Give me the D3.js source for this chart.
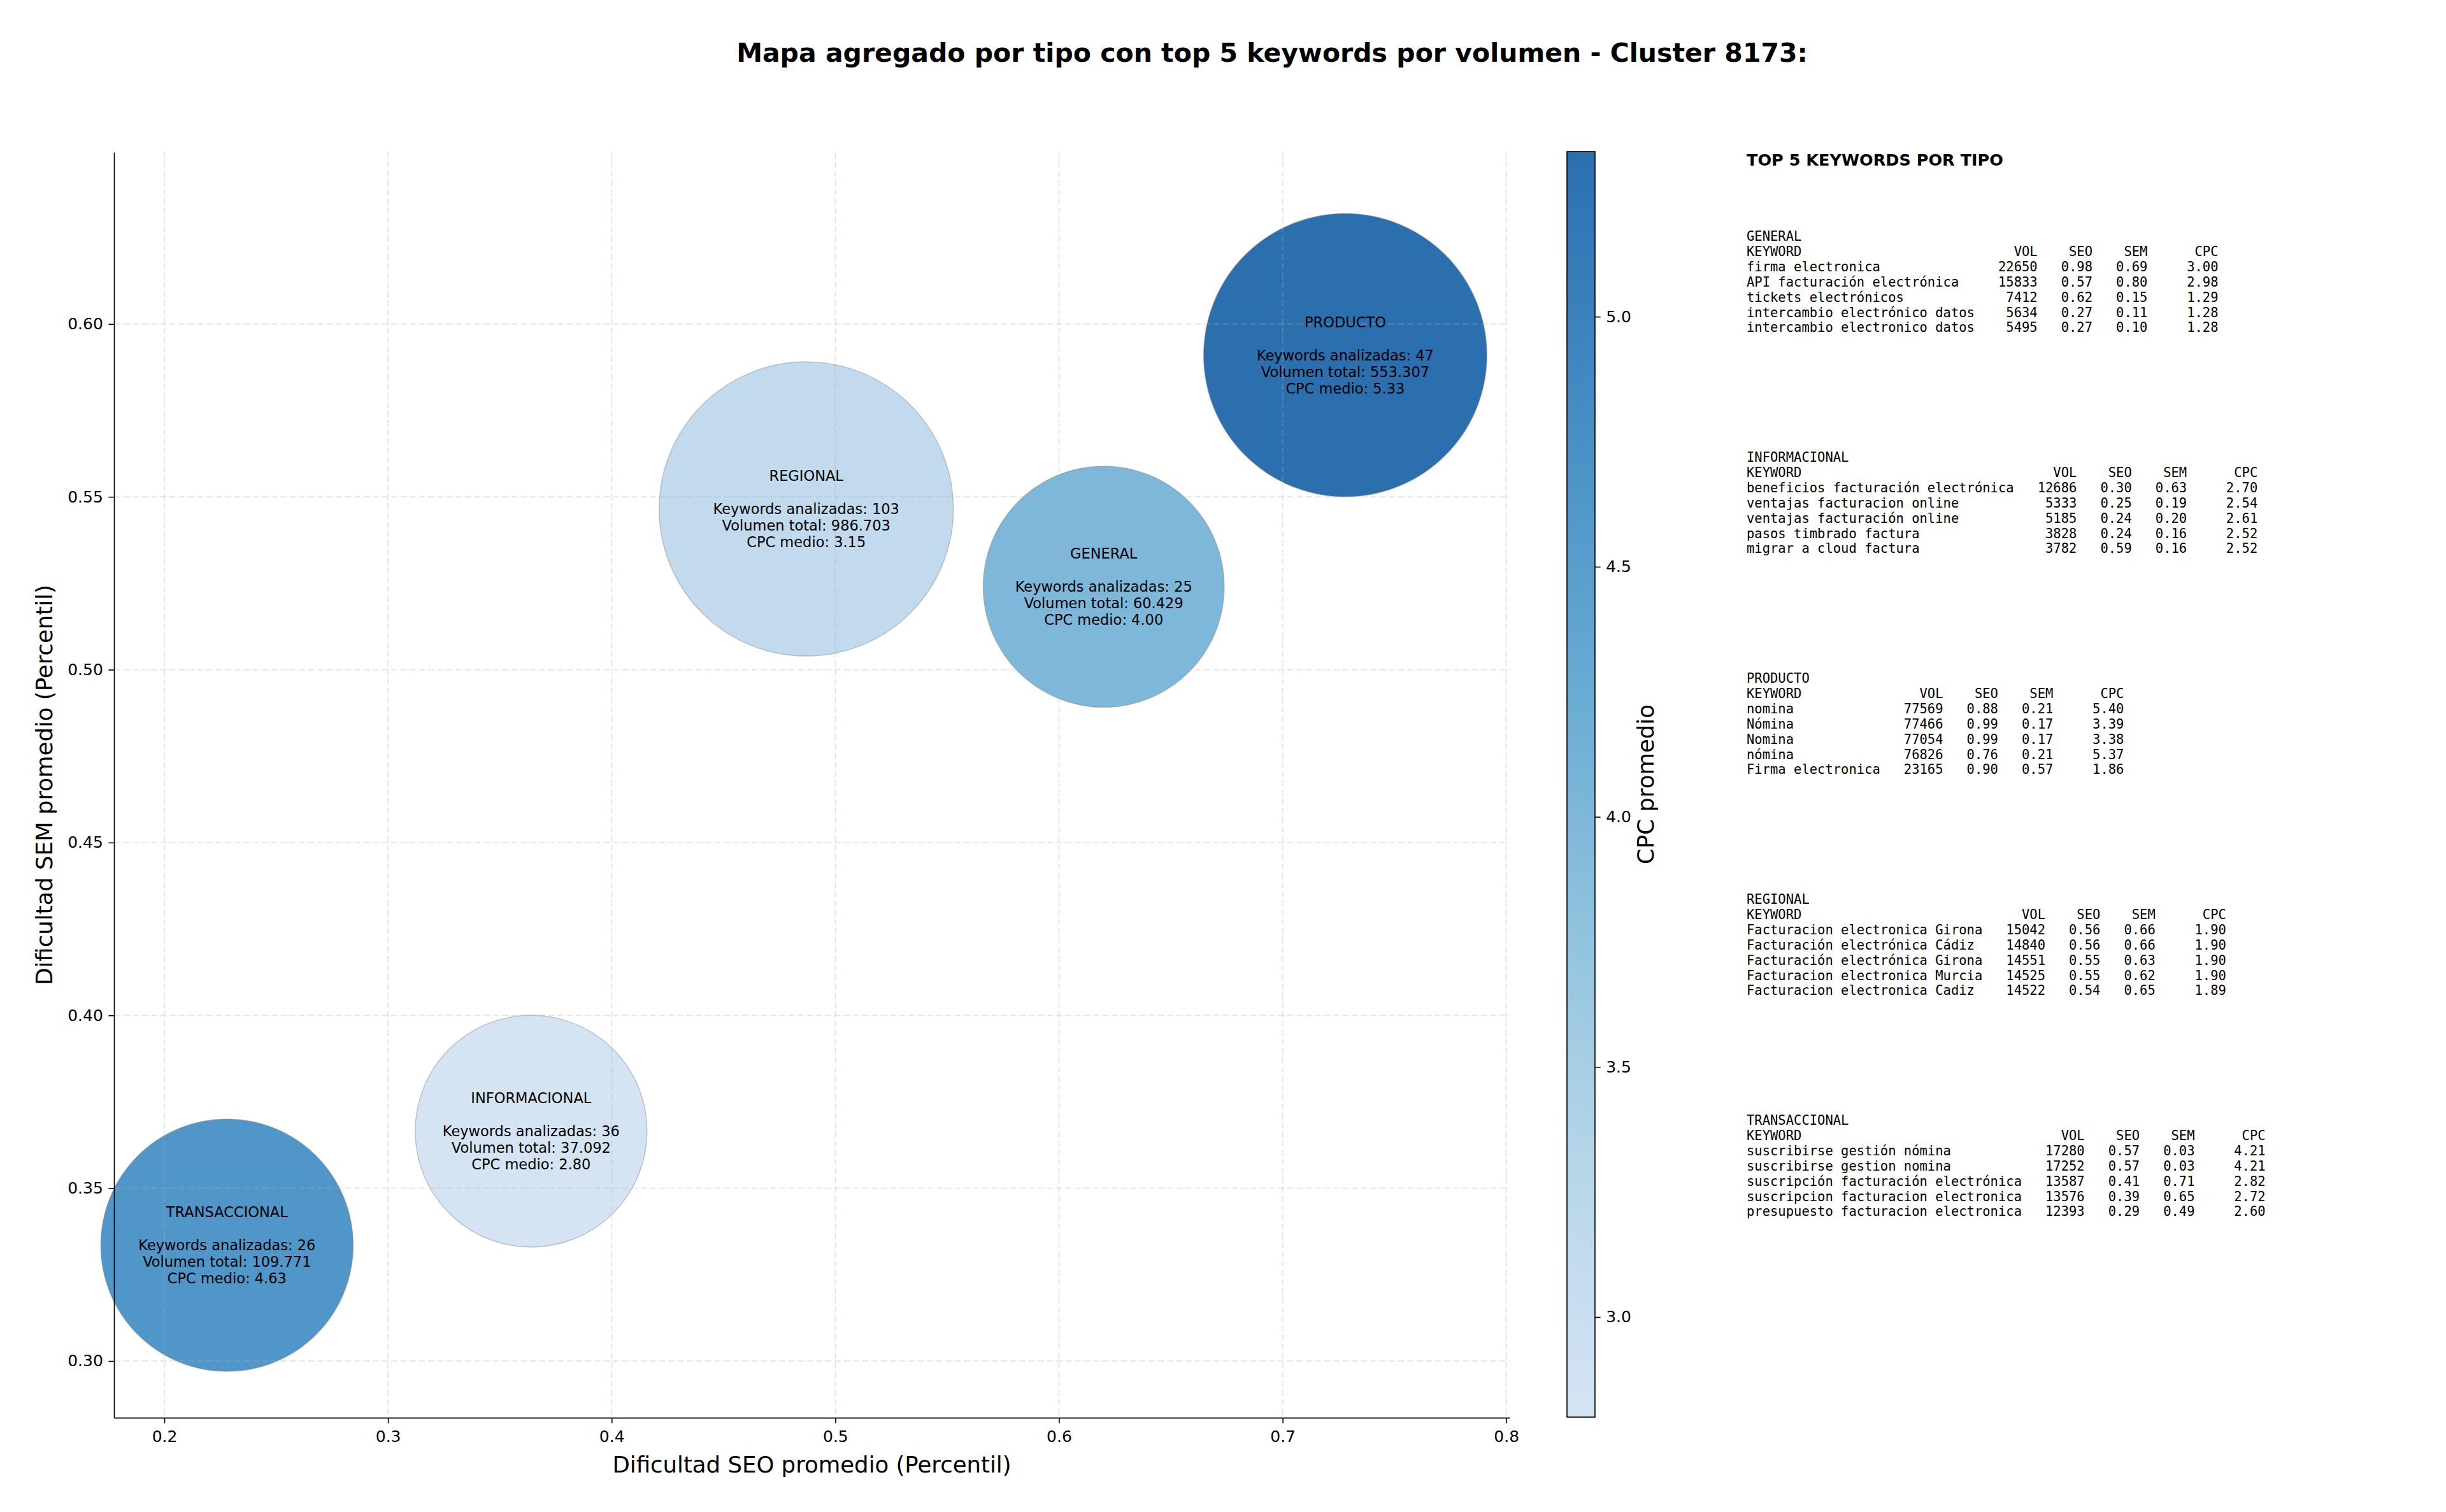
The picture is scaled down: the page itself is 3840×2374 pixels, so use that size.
<!DOCTYPE html>
<html>
<head>
<meta charset="utf-8">
<script src="https://cdn.jsdelivr.net/npm/d3@7"></script>
<style>
  html, body { margin: 0; padding: 0; background: #fff; }
  svg { display: block; }
  text { font-family: "DejaVu Sans", sans-serif; }
  .mono { font-family: "DejaVu Sans Mono", monospace; white-space: pre; }
</style>
</head>
<body>
<div id="chart"></div>
<script>
// ---- data ----
const tipos = ['GENERAL', 'INFORMACIONAL', 'PRODUCTO', 'REGIONAL', 'TRANSACCIONAL'];
const seoMedio = [0.620, 0.364, 0.728, 0.487, 0.228];
const semMedio = [0.524, 0.3665, 0.591, 0.5465, 0.3335];
const kwAnalizadas = [25, 36, 47, 103, 26];
const volTotal = [60429, 37092, 553307, 986703, 109771];
const cpcMedio = [4.00, 2.80, 5.33, 3.15, 4.63];

const xTicks = [0.2, 0.3, 0.4, 0.5, 0.6, 0.7, 0.8];
const yTicks = [0.30, 0.35, 0.40, 0.45, 0.50, 0.55, 0.60];
const cbTicks = [3.0, 3.5, 4.0, 4.5, 5.0];

// top 5 keywords per type: [keyword, vol, seo, sem, cpc]
const topGeneral = [
  ['firma electronica', 22650, 0.98, 0.69, 3.00],
  ['API facturación electrónica', 15833, 0.57, 0.80, 2.98],
  ['tickets electrónicos', 7412, 0.62, 0.15, 1.29],
  ['intercambio electrónico datos', 5634, 0.27, 0.11, 1.28],
  ['intercambio electronico datos', 5495, 0.27, 0.10, 1.28]
];
const topInformacional = [
  ['beneficios facturación electrónica', 12686, 0.30, 0.63, 2.70],
  ['ventajas facturacion online', 5333, 0.25, 0.19, 2.54],
  ['ventajas facturación online', 5185, 0.24, 0.20, 2.61],
  ['pasos timbrado factura', 3828, 0.24, 0.16, 2.52],
  ['migrar a cloud factura', 3782, 0.59, 0.16, 2.52]
];
const topProducto = [
  ['nomina', 77569, 0.88, 0.21, 5.40],
  ['Nómina', 77466, 0.99, 0.17, 3.39],
  ['Nomina', 77054, 0.99, 0.17, 3.38],
  ['nómina', 76826, 0.76, 0.21, 5.37],
  ['Firma electronica', 23165, 0.90, 0.57, 1.86]
];
const topRegional = [
  ['Facturacion electronica Girona', 15042, 0.56, 0.66, 1.90],
  ['Facturación electrónica Cádiz', 14840, 0.56, 0.66, 1.90],
  ['Facturación electrónica Girona', 14551, 0.55, 0.63, 1.90],
  ['Facturacion electronica Murcia', 14525, 0.55, 0.62, 1.90],
  ['Facturacion electronica Cadiz', 14522, 0.54, 0.65, 1.89]
];
const topTransaccional = [
  ['suscribirse gestión nómina', 17280, 0.57, 0.03, 4.21],
  ['suscribirse gestion nomina', 17252, 0.57, 0.03, 4.21],
  ['suscripción facturación electrónica', 13587, 0.41, 0.71, 2.82],
  ['suscripcion facturacion electronica', 13576, 0.39, 0.65, 2.72],
  ['presupuesto facturacion electronica', 12393, 0.29, 0.49, 2.60]
];
const topPorTipo = [topGeneral, topInformacional, topProducto, topRegional, topTransaccional];

// ---- layout ----
const W = 3840, H = 2374;
const plot = { left: 179, right: 2370, top: 239, bottom: 2226 };
const cb = { left: 2460, right: 2504, top: 238, bottom: 2225 };

const svg = d3.select('#chart').append('svg')
  .attr('width', W).attr('height', H);

const x = d3.scaleLinear().domain([0.1775, 0.8015]).range([plot.left, plot.right]);
const y = d3.scaleLinear().domain([0.2836, 0.6497]).range([plot.bottom, plot.top]);
// bubble radius grows with log of total volume
const r = d3.scaleLog().domain(d3.extent(volTotal)).range([182, 231]);

const cpcExtent = d3.extent(cpcMedio);
const color = v => d3.interpolateBlues(0.2 + 0.62 * (v - cpcExtent[0]) / (cpcExtent[1] - cpcExtent[0]));

const esLocale = d3.formatLocale({ decimal: ',', thousands: '.', grouping: [3], currency: ['', '€'] });
const fmtVol = esLocale.format(',d');
const fmt2 = d3.format('.2f');

// Title
svg.append('text')
  .attr('x', 1997).attr('y', 97)
  .attr('text-anchor', 'middle')
  .attr('font-size', '41px').attr('font-weight', 'bold')
  .text('Mapa agregado por tipo con top 5 keywords por volumen - Cluster 8173:');

// Bubbles
const bubbles = tipos.map((t, i) => ({
  tipo: t, seo: seoMedio[i], sem: semMedio[i], n: kwAnalizadas[i], vol: volTotal[i], cpc: cpcMedio[i]
}));

svg.append('g').selectAll('circle')
  .data(bubbles)
  .join('circle')
  .attr('cx', d => x(d.seo))
  .attr('cy', d => y(d.sem))
  .attr('r', d => r(d.vol))
  .attr('fill', d => color(d.cpc))
  .attr('fill-opacity', 0.9)
  .attr('stroke', '#888').attr('stroke-opacity', 0.45).attr('stroke-width', 1.5);

// Grid (drawn above the bubbles, faint)
const grid = svg.append('g')
  .attr('stroke', '#b0b0b0').attr('stroke-opacity', 0.32)
  .attr('stroke-width', 1.9).attr('stroke-dasharray', '10,4.5');
grid.selectAll('.gx').data(xTicks).join('line')
  .attr('x1', d => x(d)).attr('x2', d => x(d))
  .attr('y1', plot.top).attr('y2', plot.bottom);
grid.selectAll('.gy').data(yTicks).join('line')
  .attr('x1', plot.left).attr('x2', plot.right)
  .attr('y1', d => y(d)).attr('y2', d => y(d));

// Bubble labels
const lineH = 26;
bubbles.forEach(d => {
  const lines = [d.tipo, '', `Keywords analizadas: ${d.n}`, `Volumen total: ${fmtVol(d.vol)}`, `CPC medio: ${fmt2(d.cpc)}`];
  const cy = y(d.sem);
  svg.append('g').selectAll('text')
    .data(lines)
    .join('text')
    .attr('x', x(d.seo))
    .attr('y', (l, k) => cy + (k - 2) * lineH + 8)
    .attr('text-anchor', 'middle')
    .attr('font-size', '22.5px').attr('fill', '#000')
    .text(l => l);
});

// Axes
svg.append('g')
  .attr('transform', `translate(0,${plot.bottom})`)
  .call(d3.axisBottom(x).tickValues(xTicks).tickFormat(d3.format('.1f'))
    .tickSize(8.6).tickPadding(12).tickSizeOuter(0))
  .call(g => g.select('.domain').attr('stroke', '#222').attr('stroke-width', 2.2))
  .call(g => g.selectAll('.tick line').attr('stroke', '#000').attr('stroke-width', 1.6))
  .call(g => g.selectAll('text').attr('font-size', '25px').attr('fill', '#000')
    .attr('font-family', '"DejaVu Sans", sans-serif'));

svg.append('g')
  .attr('transform', `translate(${plot.left},0)`)
  .call(d3.axisLeft(y).tickValues(yTicks).tickFormat(d3.format('.2f'))
    .tickSize(8.6).tickPadding(8.6).tickSizeOuter(0))
  .call(g => g.select('.domain').attr('stroke', '#000').attr('stroke-width', 1.6))
  .call(g => g.selectAll('.tick line').attr('stroke', '#000').attr('stroke-width', 1.6))
  .call(g => g.selectAll('text').attr('font-size', '25px').attr('fill', '#000')
    .attr('font-family', '"DejaVu Sans", sans-serif'));

// Axis labels
svg.append('text')
  .attr('x', (plot.left + plot.right) / 2).attr('y', 2312)
  .attr('text-anchor', 'middle').attr('font-size', '35.5px')
  .text('Dificultad SEO promedio (Percentil)');

svg.append('text')
  .attr('transform', `translate(82,${(plot.top + plot.bottom) / 2}) rotate(-90)`)
  .attr('text-anchor', 'middle').attr('font-size', '35.5px')
  .text('Dificultad SEM promedio (Percentil)');

// Colorbar
const cbY = d3.scaleLinear().domain(cpcExtent).range([cb.bottom, cb.top]);
const grad = svg.append('defs').append('linearGradient')
  .attr('id', 'cbgrad').attr('x1', 0).attr('y1', 1).attr('x2', 0).attr('y2', 0);
grad.selectAll('stop')
  .data(d3.range(0, 1.0001, 0.05))
  .join('stop')
  .attr('offset', t => t)
  .attr('stop-color', t => color(cpcExtent[0] + t * (cpcExtent[1] - cpcExtent[0])))
  .attr('stop-opacity', 0.9);

svg.append('rect')
  .attr('x', cb.left).attr('y', cb.top)
  .attr('width', cb.right - cb.left).attr('height', cb.bottom - cb.top)
  .attr('fill', 'url(#cbgrad)')
  .attr('stroke', '#000').attr('stroke-width', 1.6);

svg.append('g')
  .attr('transform', `translate(${cb.right},0)`)
  .call(d3.axisRight(cbY).tickValues(cbTicks).tickFormat(d3.format('.1f'))
    .tickSize(8.6).tickPadding(8.6).tickSizeOuter(0))
  .call(g => g.select('.domain').remove())
  .call(g => g.selectAll('.tick line').attr('stroke', '#000').attr('stroke-width', 1.6))
  .call(g => g.selectAll('text').attr('font-size', '25px').attr('fill', '#000')
    .attr('font-family', '"DejaVu Sans", sans-serif'));

svg.append('text')
  .attr('transform', `translate(2596,${(cb.top + cb.bottom) / 2}) rotate(-90)`)
  .attr('text-anchor', 'middle').attr('font-size', '35.5px')
  .text('CPC promedio');

// Keyword tables
const tableX = 2742;
svg.append('text')
  .attr('x', tableX).attr('y', 260)
  .attr('font-size', '25.5px').attr('font-weight', 'bold')
  .text('TOP 5 KEYWORDS POR TIPO');

const monoSize = 20.5, monoLine = 23.9, blockStep = 347;
tipos.forEach((t, i) => {
  const rows = topPorTipo[i];
  const w = d3.max(rows, d => d[0].length);
  const lines = [
    t,
    'KEYWORD'.padEnd(w) + 'VOL'.padStart(8) + 'SEO'.padStart(7) + 'SEM'.padStart(7) + 'CPC'.padStart(9),
    ...rows.map(d => d[0].padEnd(w) + String(d[1]).padStart(8) + fmt2(d[2]).padStart(7)
      + fmt2(d[3]).padStart(7) + fmt2(d[4]).padStart(9))
  ];
  const top = 370.6 + i * blockStep;
  svg.append('g').selectAll('text')
    .data(lines)
    .join('text')
    .attr('class', 'mono')
    .attr('x', tableX)
    .attr('y', (l, k) => top + k * monoLine + 7.4)
    .attr('font-size', monoSize + 'px')
    .attr('xml:space', 'preserve')
    .text(l => l);
});
</script>
</body>
</html>
